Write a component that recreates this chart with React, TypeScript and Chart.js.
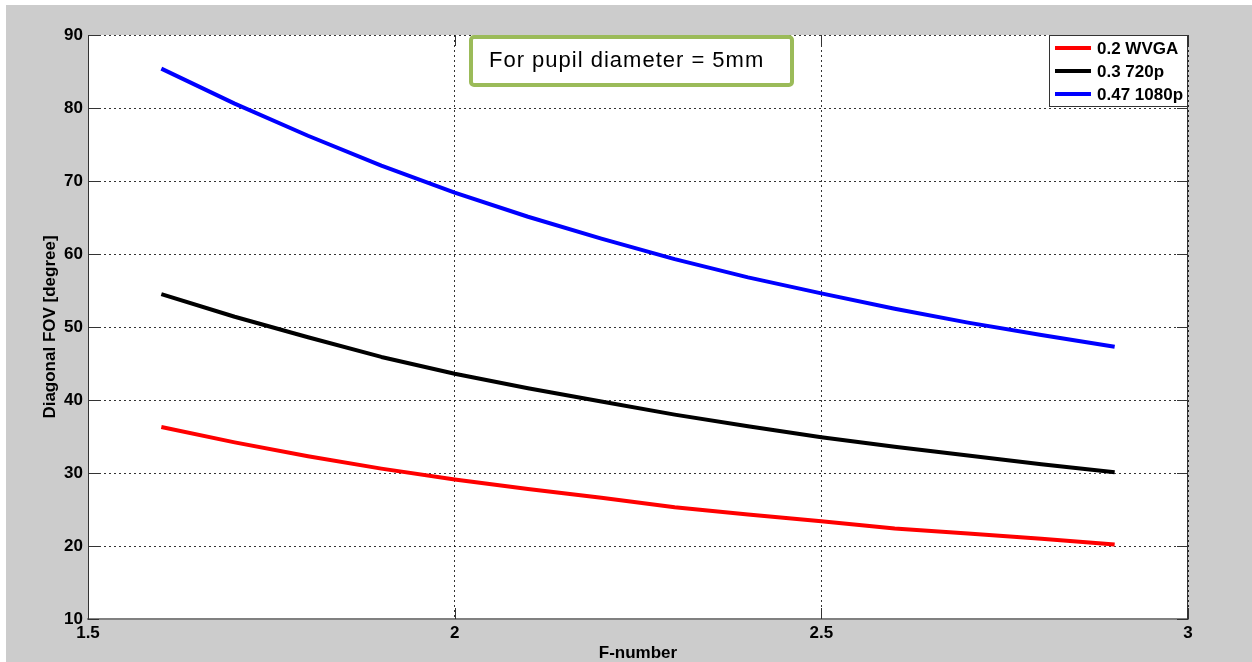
import React, { useEffect, useRef } from "react";
import { Chart, registerables } from "chart.js";

Chart.register(...registerables);

const fNumber = [1.6, 1.7, 1.8, 1.9, 2.0, 2.1, 2.2, 2.3, 2.4, 2.5, 2.6, 2.7, 2.8, 2.9];
const wvga = [36.3, 34.2, 32.3, 30.6, 29.1, 27.8, 26.6, 25.3, 24.3, 23.4, 22.4, 21.7, 21.0, 20.2];
const hd720 = [54.5, 51.4, 48.6, 45.9, 43.6, 41.6, 39.8, 38.0, 36.4, 34.9, 33.6, 32.4, 31.2, 30.1];
const hd1080 = [85.4, 80.6, 76.2, 72.1, 68.4, 65.1, 62.1, 59.3, 56.8, 54.6, 52.5, 50.6, 48.9, 47.3];
const seriesLabels = ["0.2 WVGA", "0.3 720p", "0.47 1080p"];
const seriesColors = ["#ff0000", "#000000", "#0000ff"];
const xTitle = "F-number";
const yTitle = "Diagonal FOV [degree]";
const noteText = "For pupil diameter = 5mm";

const FONT = "'Liberation Sans', Arial, sans-serif";

const framePlugin = {
  id: "frame",
  beforeDraw(chart: any) {
    const { ctx, width, height, chartArea } = chart;
    ctx.save();
    ctx.fillStyle = "#ffffff";
    ctx.fillRect(0, 0, width, height);
    ctx.fillStyle = "#cccccc";
    ctx.fillRect(6, 5, width - 6, height - 5);
    ctx.fillStyle = "#ffffff";
    ctx.fillRect(chartArea.left, chartArea.top, chartArea.right - chartArea.left, chartArea.bottom - chartArea.top);
    ctx.restore();
  },
  afterDatasetsDraw(chart: any) {
    const { ctx, chartArea } = chart;
    const xs = chart.scales.x;
    const ys = chart.scales.y;
    const tl = 11;
    ctx.save();
    ctx.strokeStyle = "#333333";
    ctx.lineWidth = 1;
    ctx.beginPath();
    ctx.moveTo(Math.round(chartArea.right) - 0.5, chartArea.top);
    ctx.lineTo(Math.round(chartArea.right) - 0.5, chartArea.bottom);
    ys.ticks.forEach((t: any) => {
      const y = Math.round(ys.getPixelForValue(t.value)) + 0.5;
      ctx.moveTo(chartArea.left, y);
      ctx.lineTo(chartArea.left + tl, y);
      ctx.moveTo(chartArea.right, y);
      ctx.lineTo(chartArea.right - tl, y);
    });
    xs.ticks.forEach((t: any) => {
      const x = Math.round(xs.getPixelForValue(t.value)) + 0.5;
      ctx.moveTo(x, chartArea.bottom);
      ctx.lineTo(x, chartArea.bottom - tl);
      ctx.moveTo(x, chartArea.top);
      ctx.lineTo(x, chartArea.top + tl);
    });
    ctx.stroke();
    ctx.restore();
  },
  afterDraw(chart: any) {
    const { ctx, chartArea } = chart;
    ctx.save();
    // legend box
    const bw = 139;
    const bh = 72;
    const bx = chartArea.right - bw;
    const by = chartArea.top;
    ctx.fillStyle = "#ffffff";
    ctx.fillRect(bx, by, bw, bh);
    ctx.strokeStyle = "#333333";
    ctx.lineWidth = 1;
    ctx.strokeRect(Math.round(bx) + 0.5, Math.round(by) + 0.5, bw - 1, bh - 1);
    ctx.font = `bold 17px ${FONT}`;
    ctx.textBaseline = "middle";
    ctx.textAlign = "left";
    chart.data.datasets.forEach((ds: any, i: number) => {
      const ry = by + 13 + i * 23;
      ctx.strokeStyle = ds.borderColor;
      ctx.lineWidth = 4;
      ctx.beginPath();
      ctx.moveTo(bx + 6, ry);
      ctx.lineTo(bx + 42, ry);
      ctx.stroke();
      ctx.fillStyle = "#000000";
      ctx.fillText(ds.label, bx + 48, ry + 1);
    });
    // annotation box
    const ax = chartArea.left + 381;
    const ay = chartArea.top;
    const aw = 325;
    const ah = 52;
    ctx.fillStyle = "#ffffff";
    ctx.strokeStyle = "#9bbb59";
    ctx.lineWidth = 4;
    ctx.beginPath();
    (ctx as any).roundRect(ax + 2, ay + 2, aw - 4, ah - 4, 3);
    ctx.fill();
    ctx.stroke();
    ctx.fillStyle = "#000000";
    ctx.font = `22px ${FONT}`;
    (ctx as any).letterSpacing = "1px";
    ctx.textBaseline = "alphabetic";
    ctx.fillText(noteText, ax + 20, ay + 32);
    ctx.restore();
  },
};

export default function App() {
  const ref = useRef<HTMLCanvasElement>(null);

  useEffect(() => {
    if (!ref.current) return;
    const dataSets = [wvga, hd720, hd1080];
    const chart = new Chart(ref.current, {
      type: "line",
      data: {
        datasets: dataSets.map((vals, i) => ({
          label: seriesLabels[i],
          data: fNumber.map((x, j) => ({ x, y: vals[j] })),
          borderColor: seriesColors[i],
          backgroundColor: seriesColors[i],
          borderWidth: 4,
          pointRadius: 0,
          tension: 0,
          fill: false,
          borderJoinStyle: "round",
        })),
      },
      options: {
        animation: false,
        responsive: false,
        devicePixelRatio: 1,
        layout: { padding: { left: 0, top: 35, right: 64, bottom: 0 } },
        plugins: {
          legend: { display: false },
          tooltip: { enabled: false },
        },
        scales: {
          x: {
            type: "linear",
            min: 1.5,
            max: 3,
            ticks: {
              stepSize: 0.5,
              color: "#000000",
              font: { family: FONT, size: 17, weight: "bold" },
              padding: 4,
              maxRotation: 0,
              callback: (v: any) => String(Number(v)),
            },
            grid: { color: "rgba(0,0,0,0.8)", lineWidth: 1, drawTicks: false },
            border: { display: true, color: "#808080", width: 2, dash: [2, 3] },
            title: {
              display: true,
              text: xTitle,
              color: "#000000",
              font: { family: FONT, size: 17, weight: "bold", lineHeight: 1 },
              padding: { top: 0, bottom: 0.5 },
            },
            afterFit: (s: any) => {
              s.height = 43;
            },
          },
          y: {
            type: "linear",
            min: 10,
            max: 90,
            ticks: {
              stepSize: 10,
              color: "#000000",
              font: { family: FONT, size: 17, weight: "bold" },
              padding: 5,
            },
            grid: { color: "rgba(0,0,0,0.8)", lineWidth: 1, drawTicks: false },
            border: { display: true, color: "#333333", width: 1, dash: [2, 3] },
            title: {
              display: true,
              text: yTitle,
              color: "#000000",
              font: { family: FONT, size: 17, weight: "bold", lineHeight: 1 },
              padding: { top: 41.5, bottom: 0 },
            },
            afterFit: (s: any) => {
              s.width = 88;
            },
          },
        },
      },
      plugins: [framePlugin],
    } as any);
    return () => chart.destroy();
  }, []);

  return (
    <div style={{ position: "fixed", left: 0, top: 0, width: 1252, height: 662 }}>
      <canvas ref={ref} width={1252} height={662} style={{ width: 1252, height: 662, display: "block" }} />
    </div>
  );
}
